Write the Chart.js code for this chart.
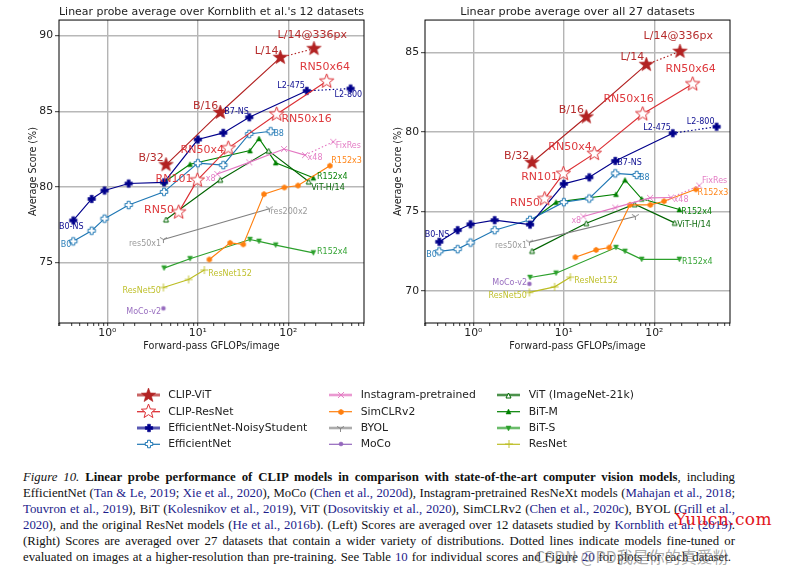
<!DOCTYPE html>
<html><head><meta charset="utf-8">
<script src="https://cdn.jsdelivr.net/npm/chart.js@4"></script>
<style>
html,body{margin:0;padding:0;background:#fff;width:787px;height:574px;overflow:hidden}
canvas.c{position:absolute;top:0}
.lg{position:absolute;font:10.8px "DejaVu Sans";color:#222;white-space:nowrap;line-height:12px}
.cap{position:absolute;left:23px;font:12.8px/16px "Liberation Serif";color:#111;white-space:nowrap;text-align:justify;text-align-last:justify}
.cap a{color:#1c1c8a;text-decoration:none}
#wm1{position:absolute;left:675px;top:509px;font:17px "DejaVu Serif";color:#e2141c;letter-spacing:.4px;white-space:nowrap}
#wm2{position:absolute;left:535px;top:544px;font:16px "Noto Sans CJK SC";color:rgba(120,120,120,.65);white-space:nowrap}
</style></head><body>
<canvas id="left" class="c" style="left:0"></canvas>
<canvas id="right" class="c" style="left:366px"></canvas>
<canvas id="legendMarks" style="position:absolute;left:130px;top:385px"></canvas>
<div id="legendText"></div>
<div class="cap" style="top:469px;width:712px"><i>Figure 10.</i> <b>Linear probe performance of CLIP models in comparison with state-of-the-art computer vision models</b>, including</div>
<div class="cap" style="top:485px;width:712px">EfficientNet (<a>Tan &amp; Le, 2019</a>; <a>Xie et al., 2020</a>), MoCo (<a>Chen et al., 2020d</a>), Instagram-pretrained ResNeXt models (<a>Mahajan et al., 2018</a>;</div>
<div class="cap" style="top:501px;width:712px"><a>Touvron et al., 2019</a>), BiT (<a>Kolesnikov et al., 2019</a>), ViT (<a>Dosovitskiy et al., 2020</a>), SimCLRv2 (<a>Chen et al., 2020c</a>), BYOL (<a>Grill et al.,</a></div>
<div class="cap" style="top:517px;width:712px"><a>2020</a>), and the original ResNet models (<a>He et al., 2016b</a>). (Left) Scores are averaged over 12 datasets studied by <a>Kornblith et al. (2019)</a>.</div>
<div class="cap" style="top:533px;width:712px">(Right) Scores are averaged over 27 datasets that contain a wider variety of distributions. Dotted lines indicate models fine-tuned or</div>
<div class="cap" style="top:549px;width:708px">evaluated on images at a higher-resolution than pre-training. See Table <a>10</a> for individual scores and Figure <a>20</a> for plots for each dataset.</div>
<div id="wm1">Yuucn.com</div>
<div id="wm2">CSDN @PD我是你的真爱粉</div>
<script>
// ---- data -------------------------------------------------------------
const clipVitX = [4.45, 17.7, 81.6, 192];
const clipVitLeft = [81.46, 84.92, 88.55, 89.14];
const clipVitRight = [78.08, 80.94, 84.23, 85.06];

const clipResNetX = [6.14, 9.87, 21.7, 74.3, 265];
const clipResNetLeft = [78.33, 80.44, 82.56, 84.8, 86.98];
const clipResNetRight = [75.8, 77.38, 78.64, 81.13, 83.01];

const noisyX = [0.42, 0.67, 0.93, 1.72, 4.23, 10, 19.1, 37, 160, 488];
const noisyLeft = [77.78, 79.2, 79.76, 80.22, 80.3, 83.13, 83.57, 84.6, 86.35, 86.5];
const noisyRight = [73.1, 73.83, 74.2, 74.46, 74.18, 76.74, 77.15, 78.18, 79.92, 80.33];

const effNetX = [0.42, 0.67, 0.93, 1.72, 4.23, 10, 19.1, 37, 63.8];
const effNetLeft = [76.4, 77.1, 77.9, 78.8, 79.67, 81.57, 81.44, 83.5, 83.68];
const effNetRight = [72.5, 72.64, 73.05, 73.83, 74.48, 75.59, 75.82, 77.4, 77.3];

const instaX = [16.4, 37, 89.6, 153, 314];
const instaLeft = [80.85, 81.62, 82.5, 82.1, 82.98];
const instaRight = [74.69, 75.25, 75.86, 75.88, 76.63];

const simclrX = [13.4, 22.7, 31.8, 53.8, 90.3, 128, 288];
const simclrLeft = [75.2, 76.3, 76.2, 79.52, 79.96, 80.09, 81.4];
const simclrRight = [72.13, 72.59, 72.74, 75.42, 75.42, 75.65, 76.4];

const byolX = [4.16, 61.7];
const byolLeft = [76.52, 78.55];
const byolRight = [73.08, 74.69];

const mocoX = [4.16];
const mocoLeft = [71.97];
const mocoRight = [70.46];

const vitX = [4.45, 17.7, 60.6, 168];
const vitLeft = [77.84, 80.47, 82.38, 80.35];
const vitRight = [72.53, 74.27, 75.46, 74.29];

const bitMX = [4.23, 8.2, 37.7, 47.4, 72.5, 189];
const bitMLeft = [80.3, 81.5, 82.4, 83.2, 81.6, 80.6];
const bitMRight = [74.37, 75.59, 76.09, 76.99, 75.8, 75.13];

const bitSX = [4.23, 8.2, 37.7, 47.4, 72.5, 189];
const bitSLeft = [74.63, 75.25, 76.52, 76.4, 76.15, 75.64];
const bitSRight = [70.86, 71.13, 72.74, 72.5, 72.0, 72.0];

const resNetX = [4.16, 7.9, 11.8];
const resNetLeft = [73.35, 73.88, 74.5];
const resNetRight = [69.92, 70.27, 70.88];

const titles = ["Linear probe average over Kornblith et al.'s 12 datasets", "Linear probe average over all 27 datasets"];
const xAxisLabel = "Forward-pass GFLOPs/image";
const yAxisLabel = "Average Score (%)";
const xTickLabels = {0: "10\u2070", 1: "10\u00b9", 2: "10\u00b2"};

// ---- styles -----------------------------------------------------------
const FIREBRICK = '#b22222', RED = '#dc2f34', NAVY = '#00008b', BLUE = '#1f77b4',
      PINK = '#e377c2', ORANGE = '#ff7f0e', GREY = '#7f7f7f', PURPLE = '#9467bd',
      DGREEN = '#006400', GREEN = '#008000', LGREEN = '#2ca02c', OLIVE = '#bcbd22';

function marker(kind, size, fill, stroke, lw) {
  const pad = 2, s = Math.ceil(size + pad * 2), cv = document.createElement('canvas');
  cv.width = cv.height = s;
  const g = cv.getContext('2d'), r = size / 2;
  g.translate(s / 2, s / 2);
  g.lineWidth = lw; g.strokeStyle = stroke; g.fillStyle = fill || 'rgba(0,0,0,0)';
  g.lineJoin = 'miter';
  g.beginPath();
  if (kind === 'star') {
    for (let i = 0; i < 10; i++) {
      const a = -Math.PI / 2 + i * Math.PI / 5, q = i % 2 ? r * 0.42 : r;
      g.lineTo(q * Math.cos(a), q * Math.sin(a));
    }
    g.closePath();
  } else if (kind === 'plus') {
    const t = r / 2.6;
    [[-t,-r],[t,-r],[t,-t],[r,-t],[r,t],[t,t],[t,r],[-t,r],[-t,t],[-r,t],[-r,-t],[-t,-t]].forEach(p => g.lineTo(p[0], p[1]));
    g.closePath();
  } else if (kind === 'hex') {
    for (let i = 0; i < 6; i++) {
      const a = -Math.PI / 2 + i * Math.PI / 3;
      g.lineTo(r * Math.cos(a), r * Math.sin(a));
    }
    g.closePath();
  } else if (kind === 'tri') {
    g.moveTo(0, -r); g.lineTo(r, r); g.lineTo(-r, r); g.closePath();
  } else if (kind === 'trid') {
    g.moveTo(0, r); g.lineTo(r, -r); g.lineTo(-r, -r); g.closePath();
  } else if (kind === 'x') {
    g.moveTo(-r, -r); g.lineTo(r, r); g.moveTo(r, -r); g.lineTo(-r, r);
  } else if (kind === 'y') {
    g.moveTo(0, 0); g.lineTo(0, r); g.moveTo(0, 0); g.lineTo(r, -r * 0.6); g.moveTo(0, 0); g.lineTo(-r, -r * 0.6);
  } else if (kind === '+') {
    g.moveTo(-r, 0); g.lineTo(r, 0); g.moveTo(0, -r); g.lineTo(0, r);
  } else if (kind === 'dot') {
    g.arc(0, 0, r, 0, Math.PI * 2);
  }
  if (fill) g.fill();
  g.stroke();
  return cv;
}

const series = [
  {name:'CLIP-ViT', x:clipVitX, l:clipVitLeft, r:clipVitRight, color:FIREBRICK, mk:marker('star',15,FIREBRICK,FIREBRICK,.6), dotted:true, lgw:3, lga:.7},
  {name:'CLIP-ResNet', x:clipResNetX, l:clipResNetLeft, r:clipResNetRight, color:RED, mk:marker('star',15,'#fff',RED,1), lgw:1.3, lga:1},
  {name:'EfficientNet-NoisyStudent', x:noisyX, l:noisyLeft, r:noisyRight, color:NAVY, mk:marker('plus',7.5,NAVY,NAVY,.6), dotted:true, lgw:3, lga:.65},
  {name:'EfficientNet', x:effNetX, l:effNetLeft, r:effNetRight, color:BLUE, mk:marker('plus',7.5,'#fff',BLUE,1), lgw:1.2, lga:1},
  {name:'Instagram-pretrained', x:instaX, l:instaLeft, r:instaRight, color:PINK, mk:marker('x',6,null,PINK,.9), dotted:true, lgw:2.6, lga:.75},
  {name:'SimCLRv2', x:simclrX, l:simclrLeft, r:simclrRight, color:ORANGE, mk:marker('hex',5.5,ORANGE,ORANGE,.5), lgw:1.2, lga:1},
  {name:'BYOL', x:byolX, l:byolLeft, r:byolRight, color:GREY, mk:marker('y',7,null,GREY,.9), lgw:2.6, lga:.65},
  {name:'MoCo', x:mocoX, l:mocoLeft, r:mocoRight, color:PURPLE, mk:marker('dot',4,PURPLE,PURPLE,.5), lgw:1.2, lga:1},
  {name:'ViT (ImageNet-21k)', x:vitX, l:vitLeft, r:vitRight, color:DGREEN, mk:marker('tri',5,'#fff',DGREEN,1), lgw:2.6, lga:.7},
  {name:'BiT-M', x:bitMX, l:bitMLeft, r:bitMRight, color:GREEN, mk:marker('tri',5,GREEN,GREEN,.5), lgw:1.2, lga:1},
  {name:'BiT-S', x:bitSX, l:bitSLeft, r:bitSRight, color:LGREEN, mk:marker('trid',5,LGREEN,LGREEN,.5), lgw:2.6, lga:.7},
  {name:'ResNet', x:resNetX, l:resNetLeft, r:resNetRight, color:OLIVE, mk:marker('+',8,null,OLIVE,.9), lgw:1.2, lga:1}
];

// labels: [series index, point index, text, dx, dy, font px]
const BIG = 11, SMALL = 8;
const labelsLeft = [
  [0,0,'B/32',-15,-6.7,BIG],[0,1,'B/16',-14.7,-6.3,BIG],[0,2,'L/14',-13.7,-6.3,BIG],[0,3,'L/14@336px',-1.7,-13.7,BIG],
  [1,0,'RN50',-19.7,-1.7,BIG],[1,1,'RN101',-23.3,-.7,BIG],[1,2,'RN50x4',-26,2.3,BIG],[1,3,'RN50x16',30,4.7,BIG],[1,4,'RN50x64',-1.7,-14,BIG],
  [2,0,'B0-NS',-2,6.7,SMALL],[2,7,'B7-NS',-12.7,-5.3,SMALL],[2,8,'L2-475',-15.7,-5,SMALL],[2,9,'L2-800',-2.3,6.7,SMALL],
  [3,0,'B0',-7.3,3.7,SMALL],[3,8,'B8',8,3,SMALL],
  [4,0,'x8',-6.7,5,SMALL],[4,3,'x48',10,2.7,SMALL],[4,4,'FixRes',15,3.7,SMALL],
  [5,6,'R152x3',16.7,-5,SMALL],
  [6,0,'res50x1',-18.3,4.3,SMALL],[6,1,'res200x2',19.7,2.7,SMALL],
  [7,0,'MoCo-v2',-19.7,3.7,SMALL],
  [8,3,'ViT-H/14',19.3,6.3,SMALL],
  [9,5,'R152x4',19,-1,SMALL],
  [10,5,'R152x4',19,-.7,SMALL],
  [11,0,'ResNet50',-21.7,3.7,SMALL],[11,2,'ResNet152',25.7,3.7,SMALL]
];
const labelsRight = [
  [0,0,'B/32',-15.3,-6.7,BIG],[0,1,'B/16',-15,-6.7,BIG],[0,2,'L/14',-14,-7,BIG],[0,3,'L/14@336px',-1.7,-15,BIG],
  [1,0,'RN50',-19.7,4.3,BIG],[1,1,'RN101',-23.7,3.3,BIG],[1,2,'RN50x4',-24.3,-6.7,BIG],[1,3,'RN50x16',-14,-14.7,BIG],[1,4,'RN50x64',-2,-14.7,BIG],
  [2,0,'B0-NS',-2.3,-7,SMALL],[2,7,'B7-NS',14.3,2.3,SMALL],[2,8,'L2-475',-15.7,-5,SMALL],[2,9,'L2-800',-16,-5,SMALL],
  [3,0,'B0',-7.7,3.3,SMALL],[3,8,'B8',7.7,3.3,SMALL],
  [4,0,'x8',-7,4,SMALL],[4,3,'x48',10,2.3,SMALL],[4,4,'FixRes',15.3,-5,SMALL],
  [5,6,'R152x3',17,3.3,SMALL],
  [6,0,'res50x1',-18.3,4,SMALL],
  [7,0,'MoCo-v2',-19.7,-.7,SMALL],
  [8,3,'ViT-H/14',19.3,2,SMALL],
  [9,5,'R152x4',17.3,2,SMALL],
  [10,5,'R152x4',18,2.7,SMALL],
  [11,0,'ResNet50',-21.7,3.3,SMALL],[11,2,'ResNet152',25.7,3.7,SMALL]
];

function makeChart(id, key, title, yMin, yMax, labels, yTitlePad) {
  const isMajor = v => Math.abs(Math.log10(v) - Math.round(Math.log10(v))) < 1e-6;
  const annot = {
    id: 'annot',
    afterDatasetsDraw(ch) {
      const g = ch.ctx, xs = ch.scales.x, ys = ch.scales.y;
      g.save();
      g.textAlign = 'center'; g.textBaseline = 'middle';
      labels.forEach(([si, pi, txt, dx, dy, fs]) => {
        const s = series[si];
        g.font = fs + 'px "DejaVu Sans"';
        g.fillStyle = s.color; g.globalAlpha = si === 6 ? .8 : .95;
        g.fillText(txt, xs.getPixelForValue(s.x[pi]) + dx, ys.getPixelForValue(s[key][pi]) + dy);
      });
      g.restore();
    },
    afterDraw(ch) {
      const a = ch.chartArea, g = ch.ctx;
      g.save(); g.strokeStyle = '#000'; g.lineWidth = 1;
      g.strokeRect(a.left, a.top, a.right - a.left, a.bottom - a.top);
      g.restore();
    }
  };
  return new Chart(document.getElementById(id), {
    type: 'scatter',
    data: { datasets: series.map(s => ({
      label: s.name,
      data: s.x.map((x, i) => ({x, y: s[key][i]})),
      showLine: true,
      borderColor: s.color,
      borderWidth: 1.15,
      backgroundColor: s.color,
      pointStyle: s.mk,
      pointRadius: 5,
      pointHoverRadius: 5,
      segment: s.dotted ? { borderDash: c => c.p1DataIndex === s.x.length - 1 ? [1.5, 2.2] : undefined } : undefined
    })) },
    plugins: [annot],
    options: {
      responsive: false, animation: false, devicePixelRatio: 1,
      layout: { padding: {left: 0, right: 16, top: 0, bottom: 0} },
      plugins: {
        legend: {display: false}, tooltip: {enabled: false},
        title: { display: true, text: title, fullSize: false, color: '#222',
          font: {family: '"DejaVu Sans"', size: 11.2, weight: 'normal', lineHeight: 1.2},
          padding: {top: 5, bottom: 1.6} }
      },
      scales: {
        x: {
          type: 'logarithmic', min: 0.292, max: 686,
          afterFit: s => { s.height = 37; },
          border: {display: false},
          grid: {
            color: c => (c.tick && isMajor(c.tick.value)) ? '#b4b4b4' : 'rgba(0,0,0,0)',
            lineWidth: 1.4, tickColor: '#000', tickWidth: .8, tickLength: 3, drawOnChartArea: true
          },
          ticks: { autoSkip: false, maxRotation: 0, padding: 1, color: '#222',
            font: {family: '"DejaVu Sans"', size: 10.8},
            callback: v => isMajor(v) ? (xTickLabels[Math.round(Math.log10(v))] || '') : '' },
          title: { display: true, text: xAxisLabel, color: '#222',
            font: {family: '"DejaVu Sans"', size: 9.6}, padding: {top: 0, bottom: 8} }
        },
        y: {
          type: 'linear', min: yMin, max: yMax,
          afterFit: s => { s.width = 59; },
          border: {display: false},
          grid: { color: '#b8b8b8', lineWidth: 1.4, tickColor: '#000', tickWidth: .8, tickLength: 4 },
          ticks: { stepSize: 5, includeBounds: false, padding: 2, color: '#222',
            font: {family: '"DejaVu Sans"', size: 10.8} },
          title: { display: true, text: yAxisLabel, color: '#222',
            font: {family: '"DejaVu Sans"', size: 9.6}, padding: {top: yTitlePad, bottom: 0} }
        }
      }
    }
  });
}

document.getElementById('left').width = 380; document.getElementById('left').height = 360;
document.getElementById('right').width = 380; document.getElementById('right').height = 360;
makeChart('left', 'l', titles[0], 71, 91.03, labelsLeft, 28);
makeChart('right', 'r', titles[1], 68, 87.03, labelsRight, 27);

// ---- legend: three columns of four rows ---------------------------------
const rowY = [395, 411.7, 428, 444.3];
const colSwatch = [[137, 160], [329, 352], [497, 520]];
const colText = [168.3, 360.7, 528.7];
const lc = document.getElementById('legendMarks');
lc.width = 400; lc.height = 70;
const lg = lc.getContext('2d'), box = document.getElementById('legendText');
series.forEach((s, i) => {
  const c = Math.floor(i / 4), y = rowY[i % 4], [x0, x1] = colSwatch[c];
  lg.save();
  lg.globalAlpha = s.lga; lg.strokeStyle = s.color; lg.lineWidth = s.lgw;
  lg.beginPath(); lg.moveTo(x0 - 130, y - 385); lg.lineTo(x1 - 130, y - 385); lg.stroke();
  lg.restore();
  lg.drawImage(s.mk, Math.round((x0 + x1) / 2 - 130 - s.mk.width / 2), Math.round(y - 385 - s.mk.height / 2));
  const t = document.createElement('div');
  t.className = 'lg'; t.textContent = s.name;
  t.style.left = colText[c] + 'px'; t.style.top = (y - 6) + 'px';
  box.appendChild(t);
});
</script>
</body></html>
